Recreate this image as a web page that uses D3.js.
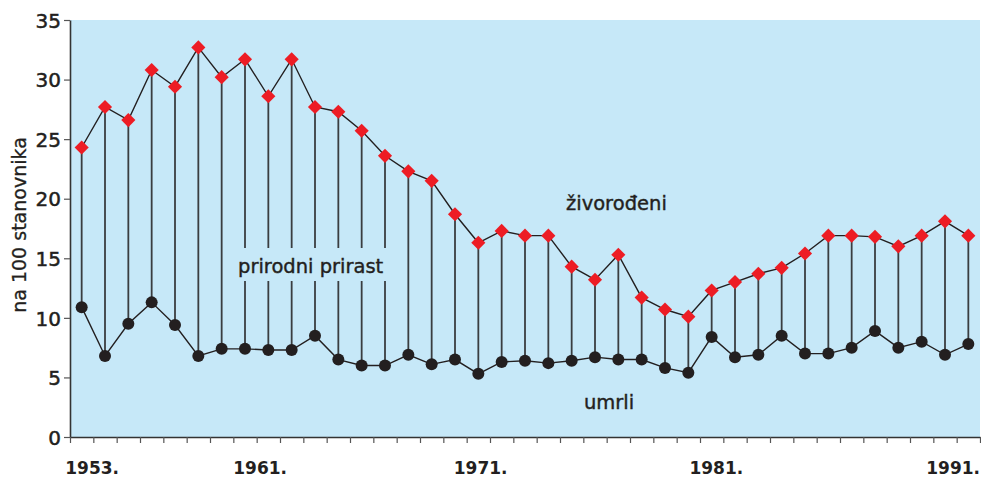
<!DOCTYPE html>
<html>
<head>
<meta charset="utf-8">
<script src="https://cdn.jsdelivr.net/npm/d3@7"></script>
<style>
  body { margin: 0; background: #fff; }
  svg { display: block; }
</style>
</head>
<body>
<div id="chart"></div>
<script>
// Data
const years = d3.range(1953, 1992);
const born = [24.3, 27.7, 26.6, 30.8, 29.4, 32.7, 30.2, 31.7, 28.6, 31.7,
              27.7, 27.3, 25.7, 23.6, 22.3, 21.5, 18.7, 16.3, 17.3, 16.9,
              16.9, 14.3, 13.2, 15.3, 11.7, 10.7, 10.1, 12.3, 13.0, 13.7,
              14.2, 15.4, 16.9, 16.9, 16.8, 16.0, 16.9, 18.1, 16.9];
const died = [10.9, 6.8, 9.5, 11.3, 9.4, 6.8, 7.4, 7.4, 7.3, 7.3,
              8.5, 6.5, 6.0, 6.0, 6.9, 6.1, 6.5, 5.3, 6.3, 6.4,
              6.2, 6.4, 6.7, 6.5, 6.5, 5.8, 5.4, 8.4, 6.7, 6.9,
              8.5, 7.0, 7.0, 7.5, 8.9, 7.5, 8.0, 6.9, 7.8];
const yTicks = [0, 5, 10, 15, 20, 25, 30, 35];
const xLabels = ["1953.", "1961.", "1971.", "1981.", "1991."];
const xLabelPos = [1953.95, 1961.15, 1970.6, 1980.7, 1990.85];

const data = years.map((yr, i) => ({ year: yr, born: born[i], died: died[i] }));

const width = 981, height = 478;
const plotLeft = 70, plotRight = 980, plotTop = 20, plotBottom = 437;
const ink = "#231f20";
const font = "'DejaVu Sans', sans-serif";

const svg = d3.select("#chart").append("svg")
    .attr("width", width)
    .attr("height", height);

// Scales: one unit per year, points at the middle of each year
const x = d3.scaleLinear().domain([1953, 1992]).range([plotLeft, plotRight]);
const y = d3.scaleLinear().domain([0, 35]).range([plotBottom, plotTop]);
const px = d => x(d.year + 0.5);

// Plot background
svg.append("rect")
    .attr("x", plotLeft).attr("y", plotTop)
    .attr("width", plotRight - plotLeft).attr("height", plotBottom - plotTop)
    .attr("fill", "#c6e8f8");

// Stems between died and born
svg.selectAll(".stem")
    .data(data)
    .enter().append("line")
    .attr("class", "stem")
    .attr("x1", px).attr("x2", px)
    .attr("y1", d => y(d.died))
    .attr("y2", d => y(d.born))
    .attr("stroke", "#3a3d40")
    .attr("stroke-width", 1.8);

// Gap behind "prirodni prirast"
svg.append("rect")
    .attr("x", 230).attr("y", 248)
    .attr("width", 162).attr("height", 33)
    .attr("fill", "#c6e8f8");

// Lines
const line = key => d3.line().x(px).y(d => y(d[key]));
svg.append("path")
    .datum(data)
    .attr("d", line("born"))
    .attr("fill", "none")
    .attr("stroke", ink)
    .attr("stroke-width", 1.4);
svg.append("path")
    .datum(data)
    .attr("d", line("died"))
    .attr("fill", "none")
    .attr("stroke", ink)
    .attr("stroke-width", 1.4);

// Markers
svg.selectAll(".dot")
    .data(data)
    .enter().append("circle")
    .attr("class", "dot")
    .attr("cx", px)
    .attr("cy", d => y(d.died))
    .attr("r", 6)
    .attr("fill", ink);

svg.selectAll(".diamond")
    .data(data)
    .enter().append("path")
    .attr("class", "diamond")
    .attr("d", d3.symbol(d3.symbolSquare, 100))
    .attr("transform", d => `translate(${px(d)},${y(d.born)}) rotate(45)`)
    .attr("fill", "#ed1c24");

// Y axis
const yAxis = svg.append("g")
    .attr("transform", `translate(${plotLeft},0)`)
    .call(d3.axisLeft(y).tickValues(yTicks).tickSize(6).tickSizeOuter(0).tickPadding(3));
yAxis.select(".domain").attr("stroke", "#333").attr("stroke-width", 1.6);
yAxis.selectAll(".tick line").attr("stroke", "#555").attr("stroke-width", 1.2);
yAxis.selectAll(".tick text")
    .attr("font-family", font)
    .attr("font-size", 20)
    .attr("fill", ink)
    .attr("stroke", ink)
    .attr("stroke-width", 0.5)
    .attr("dy", "0.36em");

// X axis: ticks between years
const xAxis = svg.append("g")
    .attr("transform", `translate(0,${plotBottom})`)
    .call(d3.axisBottom(x).tickValues(d3.range(1953, 1993)).tickFormat("").tickSize(6).tickSizeOuter(0));
xAxis.select(".domain").attr("stroke", "#333").attr("stroke-width", 1.6);
xAxis.selectAll(".tick line").attr("stroke", "#555").attr("stroke-width", 1.2);

svg.selectAll(".xlabel")
    .data(xLabels)
    .enter().append("text")
    .attr("class", "xlabel")
    .attr("x", (d, i) => x(xLabelPos[i]))
    .attr("y", 474)
    .attr("text-anchor", "middle")
    .attr("font-family", font)
    .attr("font-weight", "bold")
    .attr("font-size", 17)
    .attr("fill", ink)
    .text(d => d);

// Axis title
svg.append("text")
    .attr("transform", "translate(26,225) rotate(-90)")
    .attr("text-anchor", "middle")
    .attr("font-family", font)
    .attr("font-size", 19)
    .attr("fill", ink)
    .attr("stroke", ink)
    .attr("stroke-width", 0.3)
    .text("na 100 stanovnika");

// Series labels
const labels = [
    { text: "živorođeni", x: 566, y: 210 },
    { text: "prirodni prirast", x: 238, y: 273 },
    { text: "umrli", x: 584, y: 409 }
];
svg.selectAll(".series-label")
    .data(labels)
    .enter().append("text")
    .attr("class", "series-label")
    .attr("x", d => d.x)
    .attr("y", d => d.y)
    .attr("font-family", font)
    .attr("font-size", 19.5)
    .attr("fill", ink)
    .attr("stroke", ink)
    .attr("stroke-width", 0.4)
    .text(d => d.text);
</script>
</body>
</html>
